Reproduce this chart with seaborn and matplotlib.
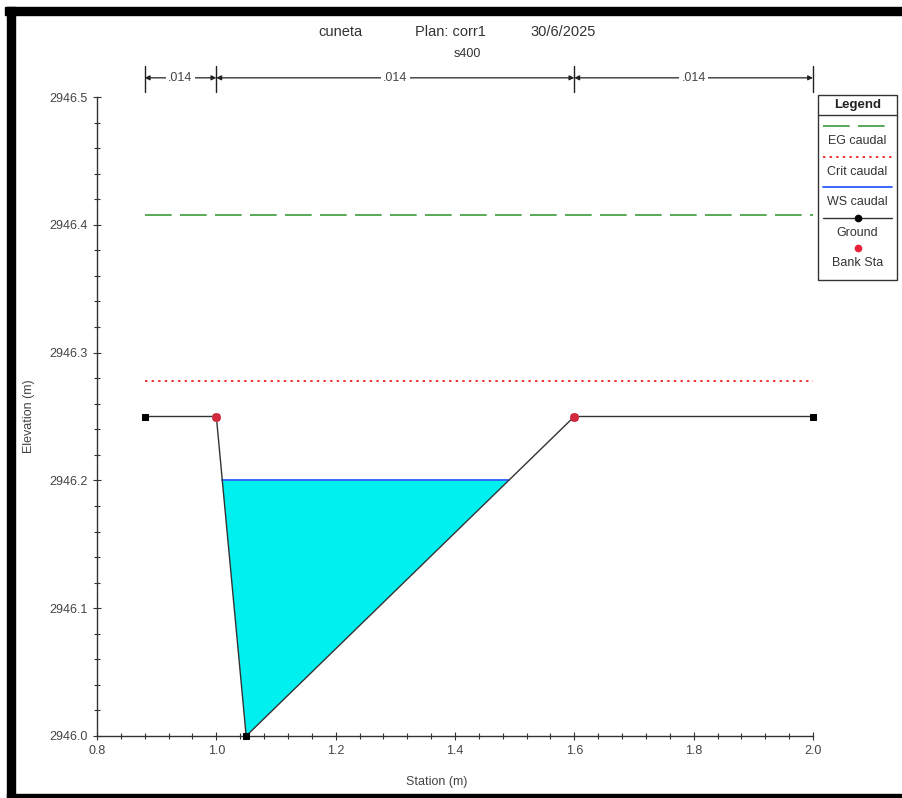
import numpy as np
import pandas as pd
import matplotlib
matplotlib.use("Agg")
import matplotlib.pyplot as plt
import seaborn as sns
from matplotlib.patches import Rectangle
from matplotlib.lines import Line2D

# ---- data ----
ground_station = [0.88, 1.00, 1.05, 1.60, 2.00]
ground_elev = [2946.25, 2946.25, 2946.00, 2946.25, 2946.25]
bank_station = [1.00, 1.60]
bank_elev = [2946.25, 2946.25]
ws_elev = 2946.20
crit_elev = 2946.278
eg_elev = 2946.408
n_bounds = [0.88, 1.00, 1.60, 2.00]
n_values = [".014", ".014", ".014"]
legend_labels = ["EG caudal", "Crit caudal", "WS caudal", "Ground", "Bank Sta"]
x_ticks = [0.8, 1.0, 1.2, 1.4, 1.6, 1.8, 2.0]
y_ticks = [2946.0, 2946.1, 2946.2, 2946.3, 2946.4, 2946.5]

sns.set_style("white")
plt.rcParams["font.family"] = ["Liberation Sans", "DejaVu Sans"]

W, H = 903, 798
fig = plt.figure(figsize=(W / 100, H / 100), dpi=100)
ax = fig.add_axes([97 / W, 1 - 736 / H, (813 - 97) / W, (736 - 97) / H])

gdf = pd.DataFrame({"station": ground_station, "elev": ground_elev})

# water fill (WS) between ground and water surface
xs = np.array(ground_station)
ys = np.array(ground_elev)
poly_x, poly_y = [], []
for i in range(len(xs) - 1):
    x0, x1, y0, y1 = xs[i], xs[i + 1], ys[i], ys[i + 1]
    if y0 < ws_elev:
        poly_x.append(x0); poly_y.append(y0)
    if (y0 - ws_elev) * (y1 - ws_elev) < 0:
        t = (ws_elev - y0) / (y1 - y0)
        poly_x.append(x0 + t * (x1 - x0)); poly_y.append(ws_elev)
ax.fill(poly_x, poly_y, color="#00f0f0", zorder=1, lw=0)
ws_df = pd.DataFrame({"station": [min(poly_x), max(poly_x)], "elev": [ws_elev, ws_elev]})
sns.lineplot(data=ws_df, x="station", y="elev", ax=ax, color="#2a5cff", lw=1.3, zorder=3)

# EG line
eg_df = pd.DataFrame({"station": [n_bounds[0], n_bounds[-1]], "elev": [eg_elev, eg_elev]})
sns.lineplot(data=eg_df, x="station", y="elev", ax=ax, color="#3c9a3c", lw=1.2,
             zorder=2).lines[-1].set_dashes([16, 5])

# Crit line
cr_df = pd.DataFrame({"station": [n_bounds[0], bank_station[0] + 0.05, n_bounds[-1]],
                      "elev": [crit_elev] * 3})
l = sns.lineplot(data=cr_df, x="station", y="elev", ax=ax, color="#f03030", lw=1.4, zorder=2)
l.lines[-1].set_linestyle((0, (1.2, 2.2)))

# Ground
g = sns.lineplot(data=gdf, x="station", y="elev", ax=ax, color="#333333", lw=1.0, zorder=4,
                 marker="s", markersize=4.5, markerfacecolor="black", markeredgecolor="black")
g.lines[-1].set_clip_on(False)
sc = sns.scatterplot(x=bank_station, y=bank_elev, ax=ax, color="#d42a40", s=36, zorder=5,
                     edgecolor="#d42a40")

ax.set_xlim(0.8, 2.0)
ax.set_ylim(2946.0, 2946.5)
ax.set_xticks(x_ticks)
ax.set_xticklabels([f"{v:.1f}" for v in x_ticks])
ax.set_yticks(y_ticks)
ax.set_yticklabels([f"{v:.1f}" for v in y_ticks])
ax.set_xticks(np.arange(0.8, 2.0001, 0.04), minor=True)
ax.set_yticks(np.arange(2946.0, 2946.5001, 0.02), minor=True)
ax.tick_params(which="both", direction="inout", color="#333333", labelcolor="#444444",
               labelsize=9, bottom=True, left=True)
ax.tick_params(which="major", length=6, width=0.8)
ax.tick_params(which="minor", length=4, width=0.8)
for s in ["top", "right"]:
    ax.spines[s].set_visible(False)
for s in ["left", "bottom"]:
    ax.spines[s].set_color("#333333")
    ax.spines[s].set_linewidth(1.0)
ax.set_xlabel("Station (m)", fontsize=9, color="#444444")
ax.set_ylabel("Elevation (m)", fontsize=9, color="#444444")
ax.xaxis.set_label_coords((437 - 97) / 716, -(776 - 736) / 639)
ax.yaxis.set_label_coords((35 - 97) / 716, 0.5)

# Manning n annotations above the axes
tr = ax.get_xaxis_transform()
for xb in n_bounds:
    ax.plot([xb, xb], [1.008, 1.048], transform=tr, color="#222222", lw=1.0, clip_on=False)
for i, lab in enumerate(n_values):
    a, b = n_bounds[i], n_bounds[i + 1]
    ax.annotate("", xy=(a, 1.030), xytext=(b, 1.030), xycoords=tr, textcoords=tr,
                arrowprops=dict(arrowstyle="<|-|>", color="#222222", lw=0.9,
                                mutation_scale=7, shrinkA=0, shrinkB=0))
    ax.text((a + b) / 2, 1.030, lab, transform=tr, ha="center", va="center", fontsize=9,
            color="#444444", bbox=dict(facecolor="white", edgecolor="none", pad=1.5))

# Titles
fig.text(340 / W, 1 - 32 / H, "cuneta", ha="center", va="center", fontsize=10.5, color="#333333")
fig.text(450 / W, 1 - 32 / H, "Plan: corr1", ha="center", va="center", fontsize=10.5, color="#333333")
fig.text(563 / W, 1 - 32 / H, "30/6/2025", ha="center", va="center", fontsize=10.5, color="#333333")
fig.text(467 / W, 1 - 54 / H, "s400", ha="center", va="center", fontsize=9, color="#333333")

# Legend box (manual layout, sample above label)
lx0, lx1, ly0, ly1 = 818, 897, 95, 280
def fx(px): return px / W
def fy(py): return 1 - py / H
fig.patches.append(Rectangle((fx(lx0), fy(ly1)), fx(lx1) - fx(lx0), fy(ly0) - fy(ly1),
                             transform=fig.transFigure, fill=False, edgecolor="#333333", lw=1.0))
fig.text(fx((lx0 + lx1) / 2), fy(105), "Legend", ha="center", va="center",
         fontsize=9.5, fontweight="bold", color="#222222")
fig.lines.append(Line2D([fx(lx0), fx(lx1)], [fy(115), fy(115)], transform=fig.transFigure,
                        color="#333333", lw=1.0))
sx0, sx1 = fx(823), fx(892)
fig.lines.append(Line2D([sx0, sx1], [fy(126)] * 2, transform=fig.transFigure,
                        color="#3c9a3c", lw=1.2, dashes=[16, 5]))
fig.lines.append(Line2D([sx0, sx1], [fy(157)] * 2, transform=fig.transFigure,
                        color="#f03030", lw=1.4, linestyle=(0, (1.2, 2.2))))
fig.lines.append(Line2D([sx0, sx1], [fy(187)] * 2, transform=fig.transFigure,
                        color="#2a5cff", lw=1.3))
fig.lines.append(Line2D([sx0, sx1], [fy(218)] * 2, transform=fig.transFigure,
                        color="#333333", lw=1.0))
fig.lines.append(Line2D([fx(858)], [fy(218)], transform=fig.transFigure, marker="o",
                        markersize=4.5, color="black", lw=0))
fig.lines.append(Line2D([fx(858)], [fy(248)], transform=fig.transFigure, marker="o",
                        markersize=4.5, color="#e8203a", lw=0))
for lab, py in zip(legend_labels, [141, 172, 202, 233, 263]):
    fig.text(fx((lx0 + lx1) / 2), fy(py), lab, ha="center", va="center",
             fontsize=9, color="#333333")

# Outer black frame (top, left, bottom)
fig.patches.append(Rectangle((fx(5), fy(15)), 1 - fx(5), fy(7) - fy(15),
                             transform=fig.transFigure, color="black", zorder=10))
fig.patches.append(Rectangle((fx(7), fy(797)), fx(15) - fx(7), fy(7) - fy(797),
                             transform=fig.transFigure, color="black", zorder=10))
fig.patches.append(Rectangle((fx(7), fy(798)), 1 - fx(7), fy(794) - fy(798),
                             transform=fig.transFigure, color="black", zorder=10))

fig.savefig("out.png", dpi=100)
